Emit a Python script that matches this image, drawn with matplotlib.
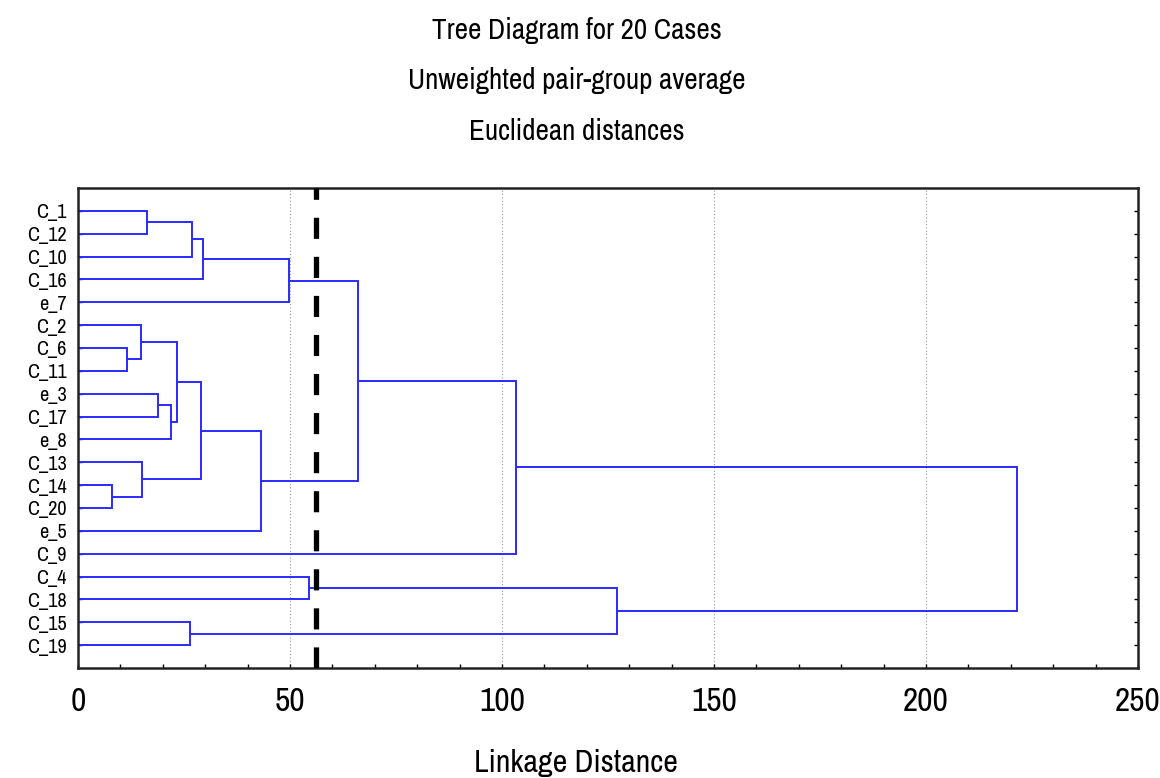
import numpy as np
import matplotlib.pyplot as plt
from matplotlib.ticker import MultipleLocator

# ---------- Data ----------
leaf_labels = ["C_1", "C_12", "C_10", "C_16", "e_7", "C_2", "C_6", "C_11", "e_3", "C_17",
               "e_8", "C_13", "C_14", "C_20", "e_5", "C_9", "C_4", "C_18", "C_15", "C_19"]

# merge steps: (left, right, linkage distance); names are leaves, ints are earlier merges
merge_left = ["C_1", 0, 1, 2, "C_6", "C_2", "e_3", 6, 5, "C_14", "C_13", 8, 11, 3, 13, "C_4", "C_15", 15, 14]
merge_right = ["C_12", "C_10", "C_16", "e_7", "C_11", 4, "C_17", "e_8", 7, "C_20", 9, 10, "e_5", 12, "C_9", "C_18", "C_19", 16, 17]
merge_height = [16.3, 26.9, 29.4, 49.8, 11.6, 14.9, 18.8, 21.9, 23.3, 8.1, 15.2, 29.1, 43.2, 66.0, 103.3, 54.5, 26.4, 127.1, 221.5]

cut_distance = 56.1
x_ticks = [0, 50, 100, 150, 200, 250]

title_lines = ["Tree Diagram for 20 Cases", "Unweighted pair-group average", "Euclidean distances"]
x_label = "Linkage Distance"

# ---------- Style ----------
W, H = 1160, 778
LINE_BLUE = "#2a2aff"
FONT = ["Liberation Sans Narrow", "Archivo Narrow", "Asap Condensed", "DejaVu Sans"]

fig = plt.figure(figsize=(W / 100, H / 100), dpi=100)
ax = fig.add_axes([78 / W, 1 - 668 / H, (1138 - 78) / W, (668 - 188) / H])

leaf_pos = {name: i + 1 for i, name in enumerate(leaf_labels)}
node_pos = []
node_height = []


def position(item):
    """Returns (y, x) of a leaf name or an earlier merge index."""
    if isinstance(item, str):
        return leaf_pos[item], 0.0
    return node_pos[item], node_height[item]


for left, right, h in zip(merge_left, merge_right, merge_height):
    yl, xl = position(left)
    yr, xr = position(right)
    ax.plot([xl, h, h, xr], [yl, yl, yr, yr], color=LINE_BLUE, lw=1.4, solid_joinstyle="miter")
    node_pos.append((yl + yr) / 2)
    node_height.append(h)

# cut line
ax.axvline(cut_distance, color="black", lw=3.8, dashes=(4, 3.4), zorder=5)

ax.set_xlim(0, 250)
ax.set_ylim(len(leaf_labels) + 1, 0)
ax.set_xticks(x_ticks)
ax.xaxis.set_minor_locator(MultipleLocator(10))
ax.set_yticks(range(1, len(leaf_labels) + 1))
ax.set_yticklabels(leaf_labels)
ax.grid(axis="x", which="major", color="#999999", ls=(0, (1, 2)), lw=0.8)

ax.tick_params(axis="x", which="both", direction="in", length=3, width=1, top=False,
               labelsize=24, pad=14)
ax.tick_params(axis="y", which="both", direction="in", length=3, width=1, left=True,
               right=True, labelsize=14.5, pad=8)
for lbl in ax.get_xticklabels() + ax.get_yticklabels():
    lbl.set_family(FONT)

for s in ax.spines.values():
    s.set_linewidth(1.8)
    s.set_color("#222222")

# titles
for i, line in enumerate(title_lines):
    fig.text(577 / W, 1 - (39 + 50.5 * i) / H, line, ha="center", va="baseline",
             fontsize=21, family=FONT)
fig.text(576 / W, 1 - 772 / H, x_label, ha="center", va="baseline", fontsize=23, family=FONT)

fig.savefig("out.png", dpi=100)
